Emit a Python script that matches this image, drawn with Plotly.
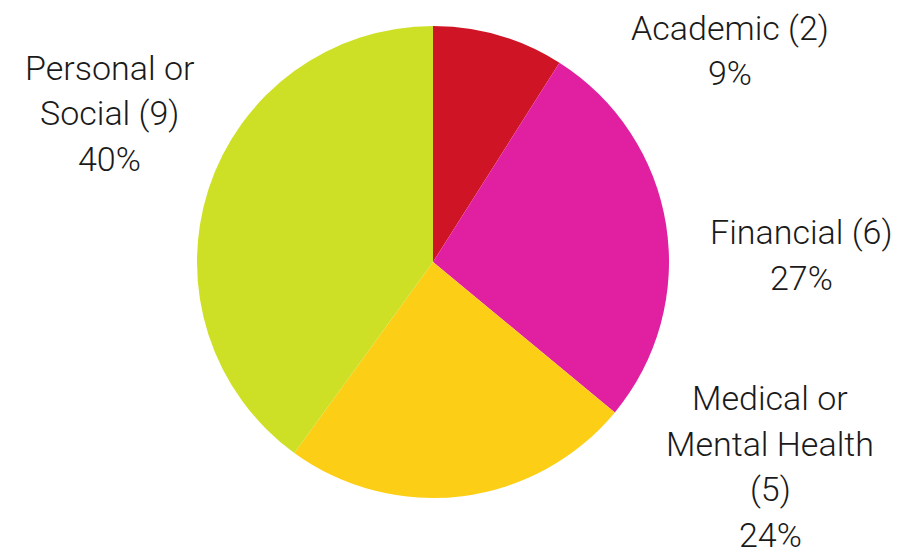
import plotly.graph_objects as go

categories = ["Academic", "Financial", "Medical or Mental Health", "Personal or Social"]
counts = [2, 6, 5, 9]
percents = [9, 27, 24, 40]
colors = ["#CF1426", "#E020A0", "#FCCF16", "#CDE026"]

label_lines = {
    "Academic": ["Academic (2)", "9%"],
    "Financial": ["Financial (6)", "27%"],
    "Medical or Mental Health": ["Medical or", "Mental Health", "(5)", "24%"],
    "Personal or Social": ["Personal or", "Social (9)", "40%"],
}
# label anchor centres in pixels (x, top line y) and line spacing
label_pos = {
    "Academic": (730, 28),
    "Financial": (801, 232),
    "Medical or Mental Health": (770, 398),
    "Personal or Social": (109, 68),
}
W, H = 913, 552
LS = 45.5

fig = go.Figure(go.Pie(
    labels=categories,
    values=percents,
    customdata=counts,
    marker=dict(colors=colors, line=dict(width=0)),
    sort=False,
    direction="clockwise",
    rotation=0,
    textinfo="none",
    hoverinfo="label+value",
    showlegend=False,
    domain=dict(x=[(433 - 236) / W, (433 + 236) / W],
                y=[(H - 262 - 236) / H, (H - 262 + 236) / H]),
))

annotations = []
for cat in categories:
    cx, cy = label_pos[cat]
    for i, line in enumerate(label_lines[cat]):
        y = cy + i * LS
        annotations.append(dict(
            x=cx / W, y=1 - y / H, xref="paper", yref="paper",
            text=line, showarrow=False, xanchor="center", yanchor="middle",
            font=dict(family="Roboto", size=34, color="#1a1a1a", weight=300),
        ))

fig.update_layout(
    width=W, height=H,
    margin=dict(l=0, r=0, t=0, b=0),
    paper_bgcolor="white",
    plot_bgcolor="white",
    annotations=annotations,
)

fig.write_html("out.html")
